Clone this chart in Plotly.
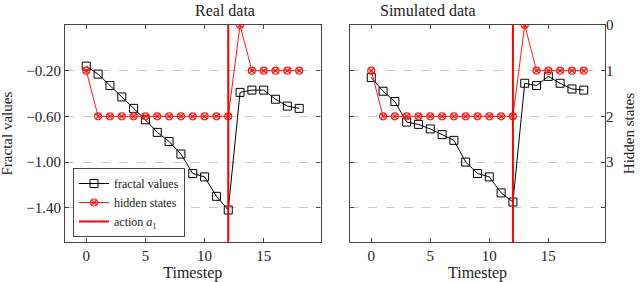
import plotly.graph_objects as go

timesteps = list(range(19))
real_fractal = [-0.16, -0.23, -0.33, -0.43, -0.53, -0.63, -0.74, -0.82, -0.93, -1.10,
                -1.13, -1.30, -1.42, -0.39, -0.37, -0.37, -0.45, -0.51, -0.53]
real_hidden = [1, 2, 2, 2, 2, 2, 2, 2, 2, 2, 2, 2, 2, 0, 1, 1, 1, 1, 1]
sim_fractal = [-0.26, -0.38, -0.47, -0.65, -0.67, -0.71, -0.76, -0.81, -1.00, -1.10,
               -1.13, -1.27, -1.35, -0.31, -0.33, -0.25, -0.31, -0.36, -0.37]
sim_hidden = [1, 2, 2, 2, 2, 2, 2, 2, 2, 2, 2, 2, 2, 0, 1, 1, 1, 1, 1]
action_step = 12

fractal_ticks = [-0.20, -0.60, -1.00, -1.40]
fractal_ticklabels = ["\u22120.20", "\u22120.60", "\u22121.00", "\u22121.40"]
hidden_ticks = [0, 1, 2, 3]
hidden_ticklabels = ["0", "1", "2", "3"]
x_ticks = [0, 5, 10, 15]

FONT = "Liberation Serif"
BLACK = "#222222"
RED = "#ff1a1a"
AXC = "#444444"

fig = go.Figure()

def add_panel(fr, hid, xa, ya_f, ya_h, show_legend):
    fig.add_trace(go.Scatter(
        x=timesteps, y=fr, xaxis=xa, yaxis=ya_f, mode="lines+markers",
        name="fractal values", showlegend=show_legend, legendrank=1,
        line=dict(color="black", width=1),
        marker=dict(symbol="square-open", size=8, color="black", line=dict(width=1))))
    fig.add_trace(go.Scatter(
        x=timesteps, y=hid, xaxis=xa, yaxis=ya_h, mode="lines+markers",
        name="hidden states", showlegend=show_legend, legendrank=2,
        line=dict(color=RED, width=1),
        marker=dict(symbol="circle-x-open", size=7, color=RED, line=dict(width=1.2))))

add_panel(real_fractal, real_hidden, "x", "y", "y2", True)
add_panel(sim_fractal, sim_hidden, "x2", "y3", "y4", False)

for xr, show in (("x", True), ("x2", False)):
    fig.add_shape(type="line", xref=xr, yref=("y domain" if xr == "x" else "y3 domain"),
                  x0=action_step, x1=action_step, y0=0, y1=1,
                  line=dict(color="red", width=2),
                  showlegend=show, name="action <i>a</i><sub>1</sub>", legendrank=3)

xr = [-1.8, 19.8]
fr_range = [-1.70, 0.20]
hid_range = [4.75, 0]
xd1 = [65 / 640, 320.5 / 640]
xd2 = [350 / 640, 605 / 640]
yd = [1 - 242 / 282, 1 - 25 / 282]

xcommon = dict(range=xr, tickvals=x_ticks, ticks="inside", ticklen=4, tickcolor=AXC,
               showline=True, linecolor=AXC, linewidth=1.2, mirror="ticks",
               showgrid=False, zeroline=False, automargin=False,
               tickfont=dict(family=FONT, size=15, color=BLACK),
               title=dict(text="Timestep", font=dict(family=FONT, size=16, color=BLACK), standoff=12))
ycommon = dict(range=fr_range, tickvals=fractal_ticks, ticks="inside", ticklen=4, tickcolor=AXC,
               showline=True, linecolor=AXC, linewidth=1.2, mirror="ticks", automargin=False,
               showgrid=True, gridcolor="#c8c8c8", griddash="dash", gridwidth=1, zeroline=False)

fig.update_layout(
    width=640, height=282, margin=dict(l=0, r=0, t=0, b=0, pad=0),
    plot_bgcolor="white", paper_bgcolor="white",
    font=dict(family=FONT, color=BLACK),
    xaxis=dict(domain=xd1, anchor="y", **xcommon),
    xaxis2=dict(domain=xd2, anchor="y3", **xcommon),
    yaxis=dict(domain=yd, anchor="x", ticktext=fractal_ticklabels,
               tickfont=dict(family=FONT, size=15, color=BLACK), **ycommon),
    yaxis2=dict(overlaying="y", anchor="x", side="right", range=hid_range, automargin=False,
                showticklabels=False, showgrid=False, zeroline=False, showline=False, ticks=""),
    yaxis3=dict(domain=yd, anchor="x2", showticklabels=False, **ycommon),
    yaxis4=dict(overlaying="y3", anchor="x2", side="right", range=hid_range, automargin=False,
                tickvals=hidden_ticks, ticktext=hidden_ticklabels, ticks="",
                tickfont=dict(family=FONT, size=15, color=BLACK),
                showgrid=False, zeroline=False, showline=False,
                title=dict(text="Hidden states", font=dict(family=FONT, size=15, color=BLACK), standoff=10)),
    legend=dict(x=73 / 640, y=1 - 237 / 282, xanchor="left", yanchor="bottom",
                bgcolor="white", bordercolor=AXC, borderwidth=1,
                font=dict(family=FONT, size=12, color=BLACK),
                tracegroupgap=0, itemwidth=30),
    annotations=[
        dict(text="Real data", x=sum(xd1) / 2, y=1, xref="paper", yref="paper",
             showarrow=False, font=dict(family=FONT, size=16, color=BLACK), yanchor="top"),
        dict(text="Simulated data", x=sum(xd2) / 2, y=1, xref="paper", yref="paper",
             showarrow=False, font=dict(family=FONT, size=16, color=BLACK), yanchor="top"),
        dict(text="Fractal values", x=7 / 640, y=sum(yd) / 2, xref="paper", yref="paper",
             showarrow=False, textangle=-90, xanchor="center", yanchor="middle",
             font=dict(family=FONT, size=15, color=BLACK)),
    ],
)

fig.write_html("out.html", config={"displayModeBar": False},
               post_script="document.body.style.margin='0';")
